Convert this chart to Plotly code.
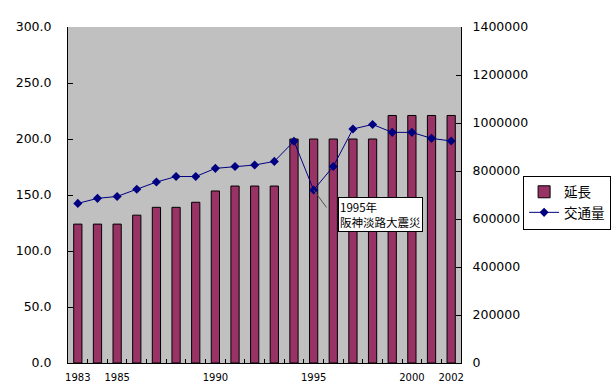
import plotly.graph_objects as go

years = list(range(1983, 2003))
extension = [124, 124, 124, 132, 139, 139, 143.5, 153.6, 158, 158, 158,
             200, 200, 200, 200, 200, 221, 221, 221, 221]
traffic = [665000, 686000, 694000, 724000, 754000, 777000, 777000, 811000,
           819000, 825000, 840000, 924000, 721000, 819000, 975000, 994000,
           961000, 961000, 936000, 925000]
xtick_labels = [1983, 1985, 1990, 1995, 2000, 2002]
bar_name = "延長"
line_name = "交通量"
note_text = "1995年<br>阪神淡路大震災"
note_year = 1995

num_font = "DejaVu Sans"
jp_font = "Noto Sans CJK JP"

fig = go.Figure()
fig.add_trace(go.Bar(
    x=years, y=extension, name=bar_name, width=0.42,
    marker=dict(color="#993366", line=dict(color="black", width=1)),
    yaxis="y",
))
fig.add_trace(go.Scatter(
    x=years, y=traffic, name=line_name, mode="lines+markers",
    line=dict(color="#000080", width=1),
    marker=dict(symbol="diamond", size=7, color="#000080"),
    yaxis="y2",
))

boundaries = [y + 0.5 for y in years[:-1]]

fig.update_layout(
    width=612, height=387,
    margin=dict(l=68, r=151, t=27, b=24, autoexpand=False),
    paper_bgcolor="white",
    plot_bgcolor="#C0C0C0",
    showlegend=True,
    legend=dict(
        x=1.158, y=0.558, xanchor="left", yanchor="top",
        bgcolor="white", bordercolor="black", borderwidth=1,
        font=dict(family=jp_font, size=13.5, color="black"),
        tracegroupgap=0, itemwidth=30,
    ),
    xaxis=dict(
        type="linear", range=[1982.5, 2002.5], automargin=False,
        tickmode="array", tickvals=xtick_labels,
        ticktext=[str(v) for v in xtick_labels],
        ticks="", showgrid=False, zeroline=False,
        showline=True, linecolor="black", linewidth=1,
        tickfont=dict(family=num_font, size=10, color="black"),
        ticklabelstandoff=5,
        minor=dict(tickmode="array", tickvals=boundaries, ticks="inside",
                   ticklen=4, tickcolor="black", showgrid=False),
    ),
    yaxis=dict(
        range=[0, 300], dtick=50, tick0=0, tickformat=".1f", automargin=False,
        ticks="inside", ticklen=5, tickcolor="black",
        showgrid=False, zeroline=False,
        showline=True, linecolor="black", linewidth=1,
        tickfont=dict(family=num_font, size=12.5, color="black"),
        ticklabelstandoff=13,
    ),
    yaxis2=dict(
        range=[0, 1400000], dtick=200000, tick0=0, tickformat="d",
        overlaying="y", side="right", automargin=False,
        ticks="inside", ticklen=5, tickcolor="black",
        showgrid=False, zeroline=False,
        showline=True, linecolor="black", linewidth=1,
        tickfont=dict(family=num_font, size=12.5, color="black"),
        ticklabelstandoff=8,
    ),
)

note_idx = years.index(note_year)
fig.add_annotation(
    x=note_year, y=traffic[note_idx], xref="x", yref="y2",
    text="", showarrow=True, arrowhead=0, arrowwidth=1,
    arrowcolor="#505050", ax=14, ay=19,
)
fig.add_annotation(
    x=1996.22, y=691000, xref="x", yref="y2",
    xanchor="left", yanchor="top", align="left",
    text=note_text, showarrow=False,
    font=dict(family=jp_font, size=11.5, color="black"),
    bgcolor="white", bordercolor="black", borderwidth=1, borderpad=1,
)

fig.write_html(
    "out.html",
    config={"displayModeBar": False},
    post_script="document.body.style.margin='0';document.body.style.overflow='hidden';",
)
